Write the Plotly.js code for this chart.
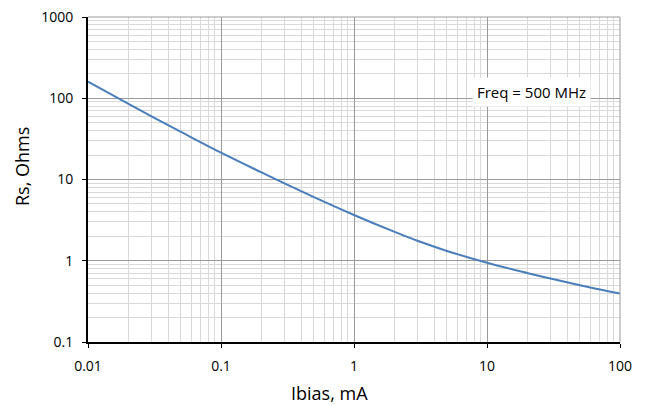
<!DOCTYPE html>
<html>
<head>
<meta charset="utf-8">
<script src="https://cdn.plot.ly/plotly-3.0.1.min.js"></script>
<style>html,body{margin:0;padding:0;background:#fff}#chart{width:647px;height:405px}</style>
</head>
<body>
<div id="chart"></div>
<script>
const ibias = [0.01, 0.02, 0.03, 0.05, 0.1, 0.2, 0.3, 0.5, 1, 2, 3, 5, 10, 20, 30, 50, 100];
const rs    = [160, 86, 60, 38.6, 21.4, 12.3, 8.95, 6.07, 3.66, 2.28, 1.76, 1.32, 0.946, 0.708, 0.604, 0.50, 0.395];
const xTickVals = [0.01, 0.1, 1, 10, 100];
const xTickText = ['0.01', '0.1', '1', '10', '100'];
const yTickVals = [0.1, 1, 10, 100, 1000];
const yTickText = ['0.1', '1', '10', '100', '1000'];
const xTitle = 'Ibias, mA';
const yTitle = 'Rs, Ohms';
const noteText = 'Freq = 500 MHz';

const font = 'Open Sans, Liberation Sans, sans-serif';
const trace = {
  x: ibias, y: rs, type: 'scatter', mode: 'lines',
  line: {color: '#4A7EBB', width: 2, shape: 'spline', smoothing: 1},
  hoverinfo: 'skip'
};
const PL = 88, PR = 620, PT = 17, PB = 342;
const px2x = p => (p - PL) / (PR - PL);
const px2y = p => (PB - p) / (PB - PT);
const axisCommon = {
  type: 'log',
  ticks: 'outside', ticklen: 4, tickcolor: '#000', tickwidth: 1,
  ticklabelstandoff: 6,
  showline: true, linecolor: '#000', linewidth: 2,
  showgrid: true, gridcolor: '#9a9a9a', gridwidth: 1,
  minor: {dtick: 'D1', showgrid: true, gridcolor: '#d9d9d9', gridwidth: 1},
  zeroline: false,
  tickfont: {size: 14}
};
const layout = {
  width: 647, height: 405,
  margin: {l: PL, r: 647 - PR, t: PT, b: 405 - PB},
  paper_bgcolor: '#fff', plot_bgcolor: '#fff',
  showlegend: false,
  font: {family: font, size: 14, color: '#000'},
  xaxis: Object.assign({}, axisCommon, {range: [-2, 2], tickvals: xTickVals, ticktext: xTickText}),
  yaxis: Object.assign({}, axisCommon, {range: [-1, 3], tickvals: yTickVals, ticktext: yTickText}),
  shapes: [
    {type: 'line', xref: 'paper', yref: 'paper', x0: 0, x1: 1, y0: 1, y1: 1, line: {color: '#9a9a9a', width: 1}},
    {type: 'line', xref: 'paper', yref: 'paper', x0: 1, x1: 1, y0: 0, y1: 1, line: {color: '#9a9a9a', width: 1}}
  ],
  annotations: [
    {
      xref: 'paper', yref: 'paper', x: px2x(531), y: px2y(92),
      xanchor: 'center', yanchor: 'middle',
      text: noteText, showarrow: false,
      font: {size: 15, color: '#000'},
      bgcolor: '#fff', borderpad: 4
    },
    {
      xref: 'paper', yref: 'paper', x: px2x(329), y: px2y(393),
      xanchor: 'center', yanchor: 'middle',
      text: xTitle, showarrow: false, font: {size: 18, color: '#000'}
    },
    {
      xref: 'paper', yref: 'paper', x: px2x(22), y: px2y(167),
      xanchor: 'center', yanchor: 'middle', textangle: -90,
      text: yTitle, showarrow: false, font: {size: 18, color: '#000'}
    }
  ]
};
Plotly.newPlot('chart', [trace], layout, {staticPlot: true, displayModeBar: false});
</script>
</body>
</html>
